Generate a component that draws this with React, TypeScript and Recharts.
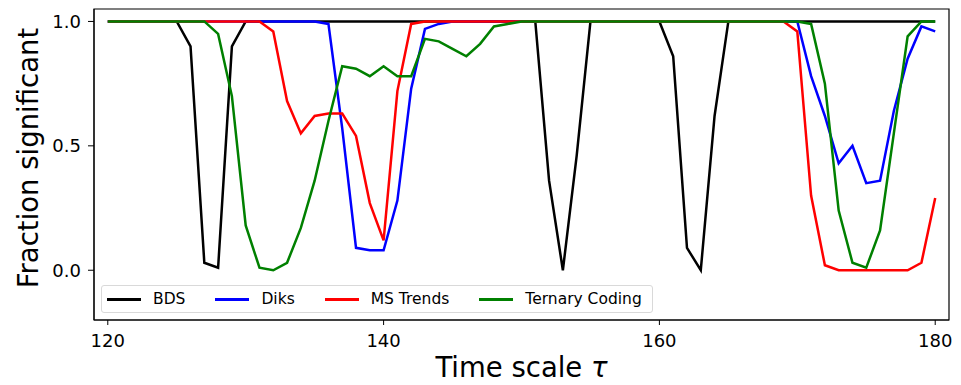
import { LineChart, Line, XAxis, YAxis, ReferenceArea, Legend } from 'recharts';

// #region Sample data
const taus = [
  120, 121, 122, 123, 124, 125, 126, 127, 128, 129,
  130, 131, 132, 133, 134, 135, 136, 137, 138, 139,
  140, 141, 142, 143, 144, 145, 146, 147, 148, 149,
  150, 151, 152, 153, 154, 155, 156, 157, 158, 159,
  160, 161, 162, 163, 164, 165, 166, 167, 168, 169,
  170, 171, 172, 173, 174, 175, 176, 177, 178, 179,
  180,
];

const bds = [
  1, 1, 1, 1, 1, 1, 0.9, 0.03, 0.01, 0.9,
  1, 1, 1, 1, 1, 1, 1, 1, 1, 1,
  1, 1, 1, 1, 1, 1, 1, 1, 1, 1,
  1, 1, 0.36, 0.0, 0.46, 1, 1, 1, 1, 1,
  1, 0.86, 0.09, 0.0, 0.62, 1, 1, 1, 1, 1,
  1, 1, 1, 1, 1, 1, 1, 1, 1, 1,
  1,
];

const diks = [
  1, 1, 1, 1, 1, 1, 1, 1, 1, 1,
  1, 1, 1, 1, 1, 1, 0.99, 0.57, 0.09, 0.08,
  0.08, 0.28, 0.73, 0.97, 0.99, 1, 1, 1, 1, 1,
  1, 1, 1, 1, 1, 1, 1, 1, 1, 1,
  1, 1, 1, 1, 1, 1, 1, 1, 1, 1,
  1, 0.78, 0.62, 0.43, 0.5, 0.35, 0.36, 0.64, 0.85, 0.98,
  0.96,
];

const msTrends = [
  1, 1, 1, 1, 1, 1, 1, 1, 1, 1,
  1, 1, 0.96, 0.68, 0.55, 0.62, 0.63, 0.63, 0.54, 0.27,
  0.12, 0.72, 0.99, 1, 1, 1, 1, 1, 1, 1,
  1, 1, 1, 1, 1, 1, 1, 1, 1, 1,
  1, 1, 1, 1, 1, 1, 1, 1, 1, 1,
  0.96, 0.3, 0.02, 0.0, 0.0, 0.0, 0.0, 0.0, 0.0, 0.03,
  0.29,
];

const ternary = [
  1, 1, 1, 1, 1, 1, 1, 1, 0.95, 0.7,
  0.18, 0.01, 0.0, 0.03, 0.17, 0.36, 0.6, 0.82, 0.81, 0.78,
  0.82, 0.78, 0.78, 0.93, 0.92, 0.89, 0.86, 0.91, 0.98, 0.99,
  1, 1, 1, 1, 1, 1, 1, 1, 1, 1,
  1, 1, 1, 1, 1, 1, 1, 1, 1, 1,
  1, 0.99, 0.75, 0.24, 0.03, 0.01, 0.16, 0.55, 0.94, 1,
  1,
];

const xTicks = [120, 140, 160, 180];
const yTicks = [0, 0.5, 1.0];
// #endregion

const data = taus.map((tau, i) => ({
  tau,
  bds: bds[i],
  diks: diks[i],
  ms: msTrends[i],
  ternary: ternary[i],
}));

const series = [
  { key: 'bds', name: 'BDS', color: '#000000' },
  { key: 'diks', name: 'Diks', color: '#0000ff' },
  { key: 'ms', name: 'MS Trends', color: '#ff0000' },
  { key: 'ternary', name: 'Ternary Coding', color: '#008000' },
];

const font = '"DejaVu Sans", sans-serif';

const MplLegend = () => (
  <div
    style={{
      display: 'flex',
      alignItems: 'center',
      border: '1px solid #d9d9d9',
      borderRadius: 3,
      background: 'rgba(255,255,255,0.8)',
      padding: '4px 10px 4px 5px',
      fontFamily: font,
      fontSize: 15.5,
      color: '#000',
      whiteSpace: 'nowrap',
    }}
  >
    {series.map((s, i) => (
      <div key={s.key} style={{ display: 'flex', alignItems: 'center', marginRight: i < series.length - 1 ? 30 : 0 }}>
        <div style={{ width: 34, height: 3, background: s.color, marginRight: 12 }} />
        <span>{s.name}</span>
      </div>
    ))}
  </div>
);

const App = () => {
  return (
    <div style={{ position: 'absolute', left: 0, top: 0, background: '#fff' }}>
      <LineChart width={961} height={385} data={data} margin={{ top: 9, right: 12, bottom: 0, left: 0 }}>
        <XAxis
          dataKey="tau"
          type="number"
          domain={[119, 181]}
          ticks={xTicks}
          allowDataOverflow
          height={65}
          tickSize={5}
          tickMargin={9}
          stroke="#000"
          tick={{ fill: '#000', fontSize: 18, fontFamily: font }}
          label={{
            content: (p: any) => (
              <text
                x={p.viewBox.x + p.viewBox.width / 2}
                y={377}
                textAnchor="middle"
                fontSize={27.5}
                fontFamily={font}
                fill="#000"
              >
                Time scale <tspan fontStyle="italic">τ</tspan>
              </text>
            ),
          }}
        />
        <YAxis
          type="number"
          domain={[-0.2, 1.05]}
          ticks={yTicks}
          allowDataOverflow
          width={94}
          tickSize={6}
          tickMargin={7}
          stroke="#000"
          tickFormatter={(v: number) => v.toFixed(1)}
          tick={{ fill: '#000', fontSize: 18, fontFamily: font }}
          label={{
            content: () => (
              <text
                x={38}
                y={158}
                transform="rotate(-90 38 158)"
                textAnchor="middle"
                fontSize={27.5}
                fontFamily={font}
                fill="#000"
              >
                Fraction significant
              </text>
            ),
          }}
        />
        <ReferenceArea x1={119} x2={181} y1={-0.2} y2={1.05} fill="none" stroke="#000" strokeWidth={1.2} />
        {series.map((s) => (
          <Line
            key={s.key}
            type="linear"
            dataKey={s.key}
            name={s.name}
            stroke={s.color}
            strokeWidth={2.5}
            dot={false}
            activeDot={false}
            isAnimationActive={false}
          />
        ))}
        <Legend
          layout="vertical"
          align="center"
          verticalAlign="middle"
          content={() => <MplLegend />}
          wrapperStyle={{ position: 'absolute', left: 101, top: 285, width: 'auto', height: 'auto' }}
        />
      </LineChart>
    </div>
  );
};

export default App;
